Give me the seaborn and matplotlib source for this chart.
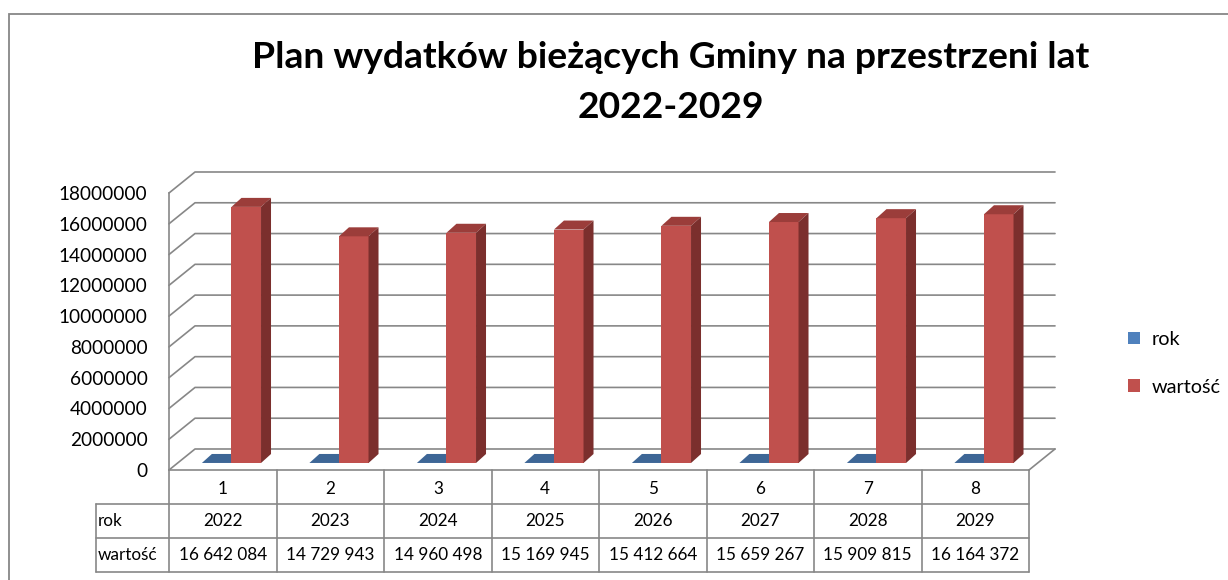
import matplotlib
matplotlib.use("Agg")
from matplotlib import pyplot as plt
from matplotlib.patches import Polygon, Patch, Rectangle
from matplotlib.ticker import FuncFormatter
import matplotlib.transforms as mtransforms
import numpy as np
import pandas
import seaborn as sns

# Data
kategorie = ["1", "2", "3", "4", "5", "6", "7", "8"]
rok = [2022, 2023, 2024, 2025, 2026, 2027, 2028, 2029]
wartosc = [16642084, 14729943, 14960498, 15169945, 15412664, 15659267, 15909815, 16164372]
serie = ["rok", "wartość"]
y_ticks = [0, 2000000, 4000000, 6000000, 8000000, 10000000, 12000000, 14000000, 16000000, 18000000]

title = "Plan wydatków bieżących Gminy na przestrzeni lat"
title2 = "2022-2029"

# Colours / style
blue = "#4F81BD"
red = "#C0504D"
top_cols = {blue: "#3D6696", red: "#9B3D3A"}
side_cols = {blue: "#2F5077", red: "#7B2F2D"}
grid_col = "#878787"

sns.set_style("white")
plt.rcParams['font.family'] = ['Lato', 'DejaVu Sans']
plt.rcParams['text.color'] = "black"

fig = plt.figure(figsize=(12.28, 5.8), dpi=100)
ax = fig.add_axes([169 / 1228, 1 - 470 / 580, 860 / 1228, 277 / 580])

dataframe = pandas.DataFrame({
    "kategoria": kategorie * 2,
    "seria": [serie[0]] * len(rok) + [serie[1]] * len(wartosc),
    "wartosc": rok + wartosc,
})

g = sns.barplot(data=dataframe, x="kategoria", y="wartosc", hue="seria", order=kategorie,
                hue_order=serie, palette=[blue, red], width=0.55, saturation=1,
                legend=False, ax=ax, zorder=2)

ax.set_xlim(-0.5, len(kategorie) - 0.5)
ax.set_ylim(0, y_ticks[-1])

# 3D depth (data units)
wall_dx, wall_dy = 0.242, 1365000
front_dx, front_dy = 0.081, 455000
back_dx, back_dy = 0.174, 1040000

# back wall gridlines + side wall
x_left, x_right = -0.5, len(kategorie) - 0.5
for v in y_ticks:
    ax.plot([x_left, x_left + wall_dx, x_right + wall_dx], [v, v + wall_dy, v + wall_dy],
            color=grid_col, lw=1.2, clip_on=False, zorder=0)
ax.plot([x_right, x_right + wall_dx], [0, wall_dy], color=grid_col, lw=1.2, clip_on=False, zorder=0)

# 3D bars from the seaborn patches
bars = list(ax.patches)
for i, p in enumerate(bars):
    x0, w, h = p.get_x(), p.get_width(), p.get_height()
    col = blue if i < len(rok) else red
    z = 2 if col == blue else 3
    p.set_x(x0 + front_dx)
    p.set_y(front_dy)
    p.set_zorder(z)
    p.set_edgecolor("none")
    top = Polygon([(x0 + front_dx, h + front_dy), (x0 + w + front_dx, h + front_dy),
                   (x0 + w + back_dx, h + back_dy), (x0 + back_dx, h + back_dy)],
                  closed=True, facecolor=top_cols[col], edgecolor="none", zorder=z, clip_on=False)
    side = Polygon([(x0 + w + front_dx, front_dy), (x0 + w + front_dx, h + front_dy),
                    (x0 + w + back_dx, h + back_dy), (x0 + w + back_dx, back_dy)],
                   closed=True, facecolor=side_cols[col], edgecolor="none", zorder=z, clip_on=False)
    ax.add_patch(top)
    ax.add_patch(side)

# axes styling
for s in ["top", "right"]:
    ax.spines[s].set_visible(False)
for s in ["left", "bottom"]:
    ax.spines[s].set_color(grid_col)
    ax.spines[s].set_linewidth(1.2)
ax.set_yticks(y_ticks)
ax.yaxis.set_major_formatter(FuncFormatter(lambda v, _: f"{int(v)}"))
ax.tick_params(axis="y", direction="out", length=4.5, width=1.2, color=grid_col, pad=11,
               labelsize=13.7, labelcolor="black")
ax.tick_params(axis="x", length=0, pad=8, labelsize=12.3, labelcolor="black")
ax.set_xlabel("")
ax.set_ylabel("")

# data table under the axis
trans = mtransforms.blended_transform_factory(ax.transData, ax.transAxes)
row_h = 34 / 277
label_left = -1.179
for k in [1, 2, 3]:
    ax.plot([label_left, x_right], [-k * row_h, -k * row_h], color=grid_col, lw=1.2,
            transform=trans, clip_on=False)
for i in range(len(kategorie) + 1):
    ax.plot([x_left + i, x_left + i], [0, -3 * row_h], color=grid_col, lw=1.2,
            transform=trans, clip_on=False)
ax.plot([label_left, label_left], [-row_h, -3 * row_h], color=grid_col, lw=1.2,
        transform=trans, clip_on=False)

for i in range(len(kategorie)):
    ax.text(i, -1.5 * row_h, str(rok[i]), transform=trans, ha="center", va="center", fontsize=12.3)
    ax.text(i, -2.5 * row_h, f"{wartosc[i]:,}".replace(",", " "), transform=trans,
            ha="center", va="center", fontsize=12.3)
ax.text(label_left + 0.02, -1.5 * row_h, serie[0], transform=trans, ha="left", va="center", fontsize=12.3)
ax.text(label_left + 0.02, -2.5 * row_h, serie[1], transform=trans, ha="left", va="center", fontsize=12.3)

# legend
handles = [Patch(facecolor=blue, edgecolor="none"), Patch(facecolor=red, edgecolor="none")]
fig.legend(handles, serie, loc="upper left", bbox_to_anchor=(1128 / 1228, 1 - 331 / 580),
           frameon=False, fontsize=14.3, handlelength=0.6, handleheight=0.6,
           handletextpad=0.6, labelspacing=1.55, borderaxespad=0, borderpad=0)

# title
fig.text(671 / 1228, 1 - 57 / 580, title, ha="center", va="center", fontsize=26.8, fontweight="bold")
fig.text(671 / 1228, 1 - 108 / 580, title2, ha="center", va="center", fontsize=26.8, fontweight="bold")

# chart frame
fig.add_artist(Rectangle((9 / 1228, -0.1), 1.2, 1.1 - 14 / 580, transform=fig.transFigure,
                         fill=False, edgecolor=grid_col, lw=1.3))

fig.savefig("out.png", dpi=100)
